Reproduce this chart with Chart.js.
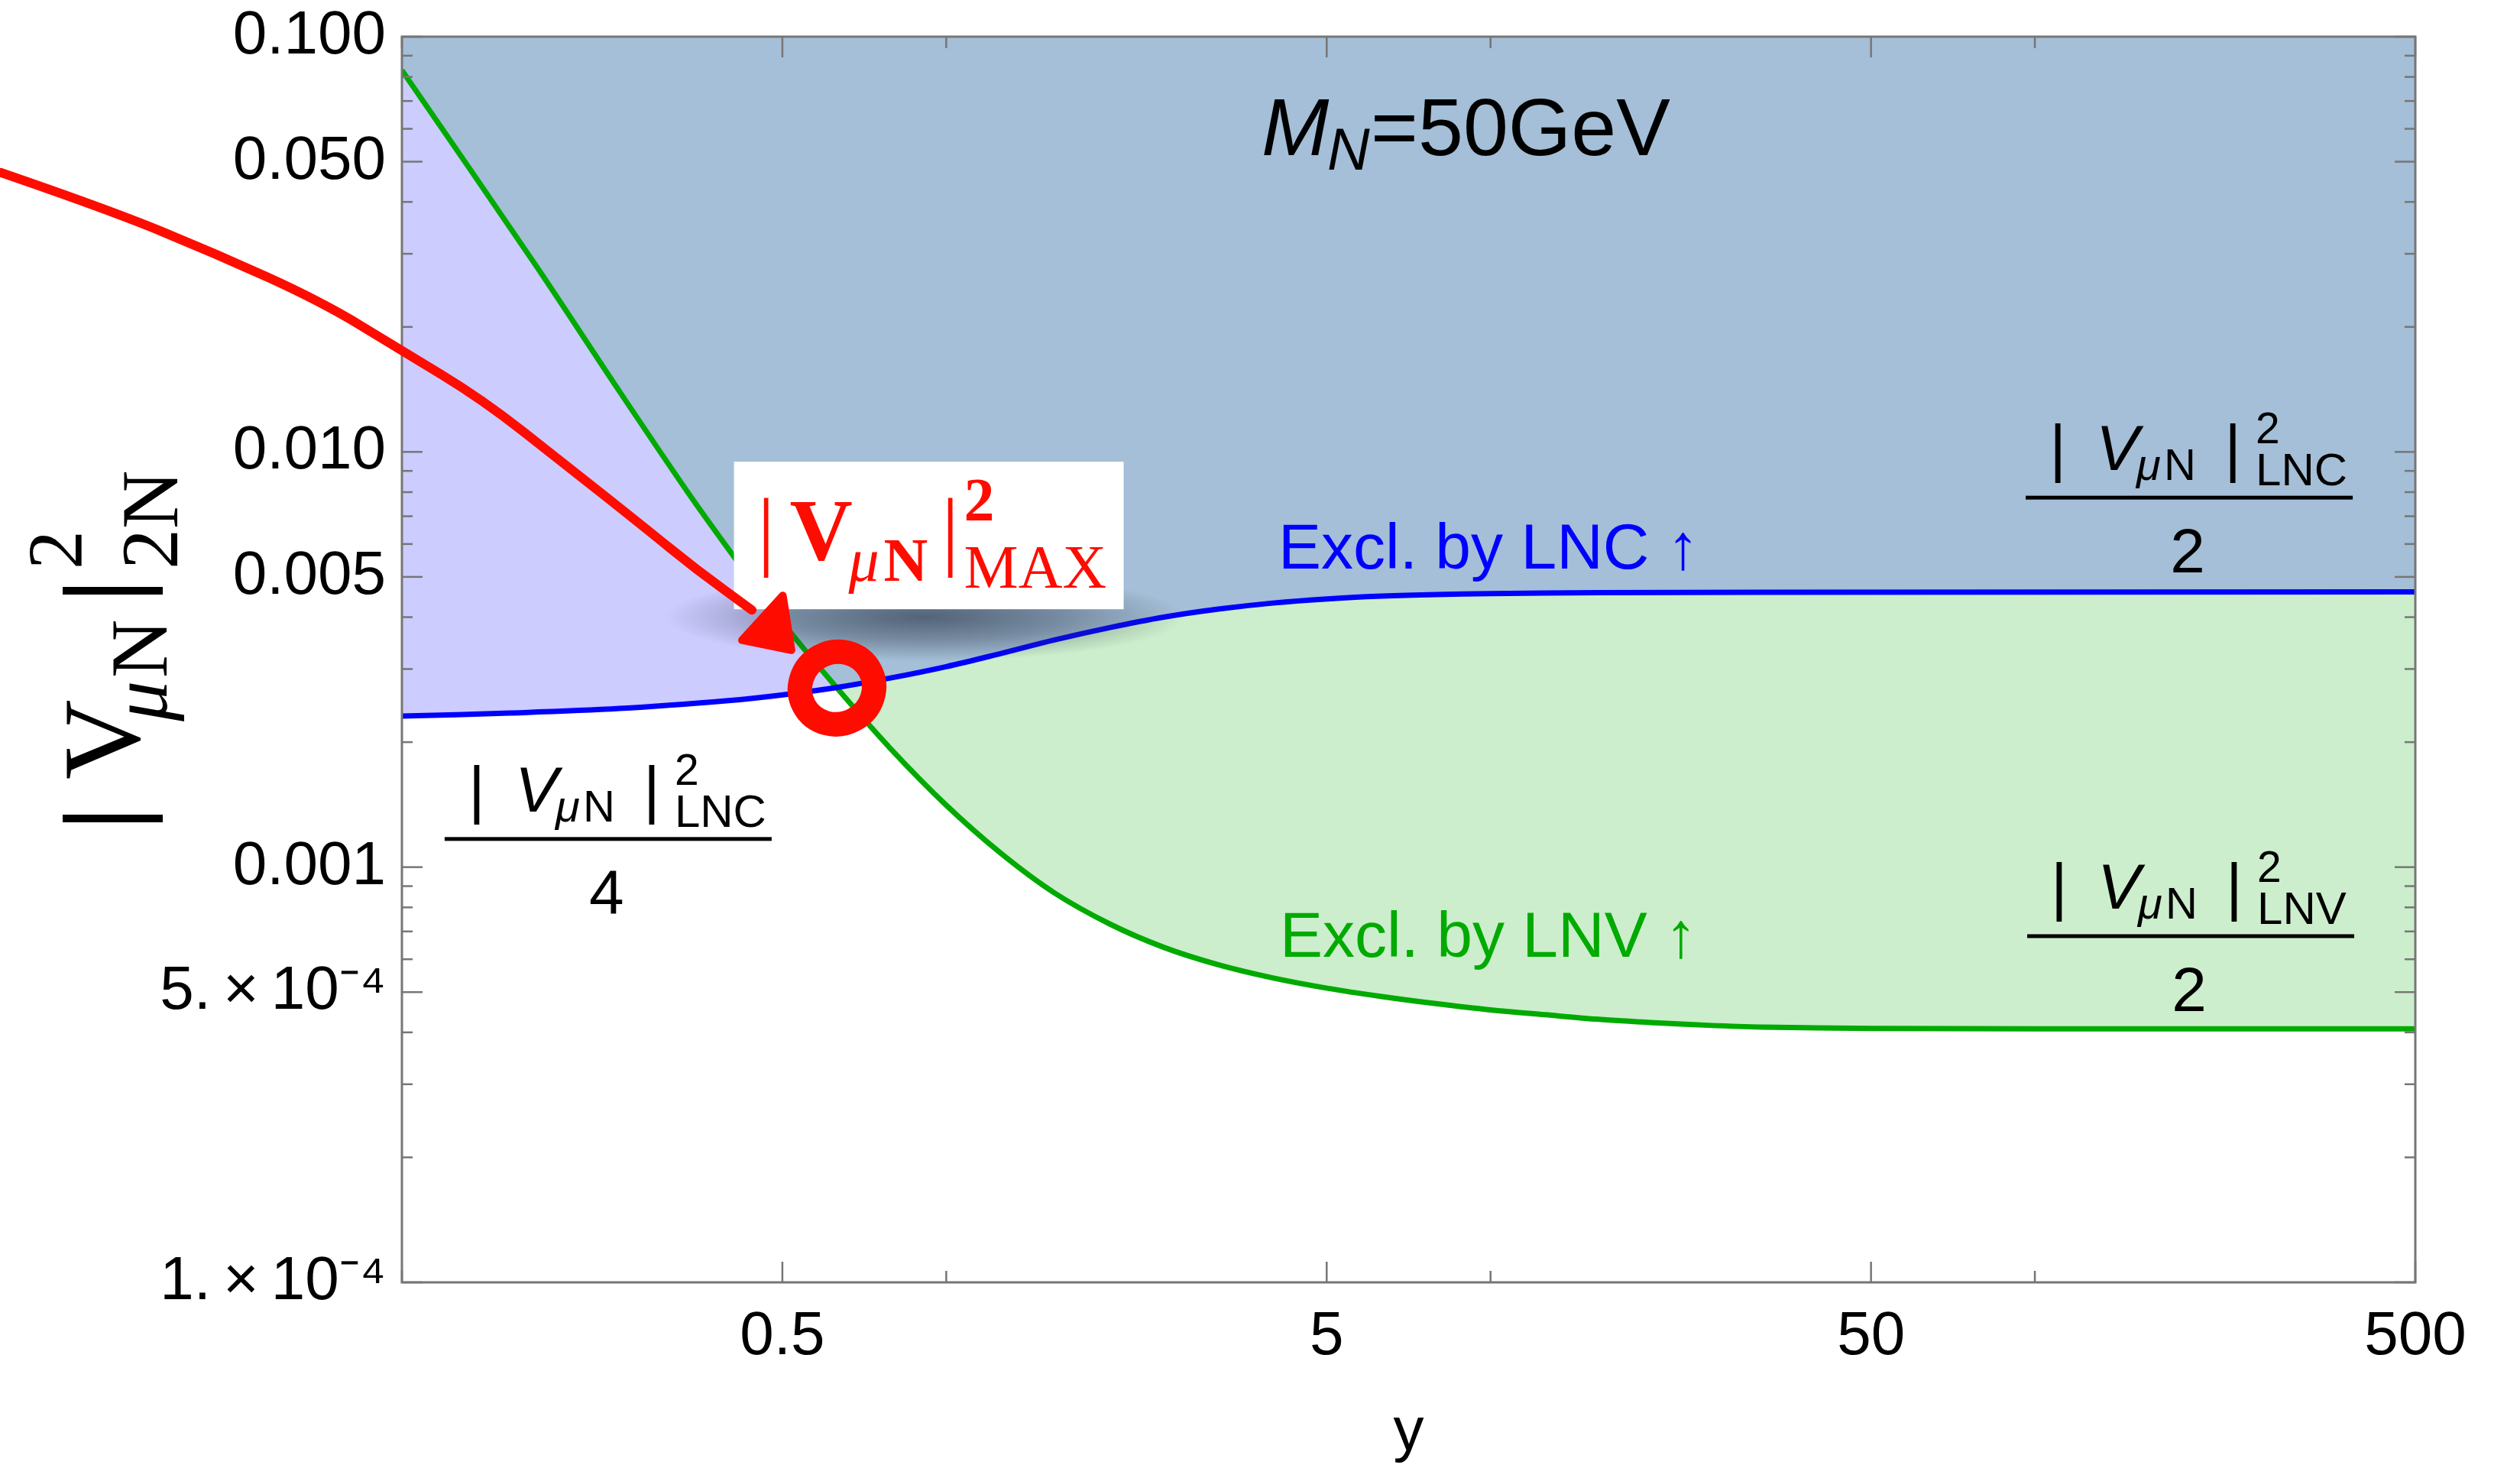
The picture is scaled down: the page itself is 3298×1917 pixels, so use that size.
<!DOCTYPE html>
<html>
<head>
<meta charset="utf-8">
<script src="https://cdn.jsdelivr.net/npm/chart.js@4.4.0/dist/chart.umd.min.js"></script>
<style>
  html, body { margin: 0; padding: 0; background: #fff; }
</style>
</head>
<body>
<canvas id="myChart" width="3298" height="1917"></canvas>
<script>
// |V|^2 bound from LNC (x = y-parameter)
const lncX = [0.1, 0.158, 0.251, 0.398, 0.501, 0.631, 0.794, 1, 1.26, 1.58, 2, 2.51, 3.16, 3.98, 5.01, 6.31, 7.94, 10, 15.8, 31.6, 500];
const lncY = [0.00231, 0.00235, 0.00241, 0.002518, 0.0026, 0.00271, 0.002858, 0.00304, 0.00327, 0.003524, 0.003776, 0.0040, 0.004182, 0.004325, 0.004426, 0.004493, 0.004535, 0.00456, 0.004581, 0.004592, 0.0046];

// |V|^2 bound from LNV
const lnvX = [0.1, 0.176, 0.25, 0.335, 0.4, 0.5, 0.63, 0.79, 1, 1.26, 1.58, 2, 2.51, 3.16, 3.98, 5.01, 6.31, 7.94, 10, 12.6, 15.8, 20, 25.1, 31.6, 50, 100, 500];
const lnvY = [0.083, 0.0282, 0.0141, 0.0080, 0.00578, 0.00389, 0.0027, 0.00193, 0.00141, 0.00108, 0.000867, 0.000729, 0.000641, 0.000582, 0.000541, 0.000511, 0.000488, 0.000469, 0.000453, 0.000441, 0.00043, 0.000422, 0.000416, 0.000412, 0.000409, 0.000408, 0.000408];

// hand drawn red arrow (data coordinates)
const arrowX = [0.0183, 0.0288, 0.0453, 0.0712, 0.1, 0.1404, 0.1972, 0.277, 0.348, 0.4396];
const arrowY = [0.0471, 0.0384, 0.0301, 0.0230, 0.01754, 0.01338, 0.00944, 0.00663, 0.0052, 0.00416];
const headX = [0.501, 0.4214, 0.5196];
const headY = [0.00451, 0.00352, 0.00333];
const ringX = 0.63;
const ringY = 0.0027;

// ticks
const xMajorTicks = [0.5, 5, 50, 500];
const xMajorLabels = ['0.5', '5', '50', '500'];
const xMinorTicks = [0.1, 1, 10, 100];
const yMajorTicks = [0.0001, 0.0005, 0.001, 0.005, 0.01, 0.05, 0.1];
const yMajorLabels = ['1.\u2009\u00d7\u200910\u207b\u2074', '5.\u2009\u00d7\u200910\u207b\u2074', '0.001', '0.005', '0.010', '0.050', '0.100'];
const yMinorTicks = [0.0002, 0.0003, 0.0004, 0.0006, 0.0007, 0.0008, 0.0009,
  0.002, 0.003, 0.004, 0.006, 0.007, 0.008, 0.009,
  0.02, 0.03, 0.04, 0.06, 0.07, 0.08, 0.09];

const SANS = '"Liberation Sans", Arial, sans-serif';
const SERIF = '"Liberation Serif", "Times New Roman", serif';
const RED = '#ff0c00';

// anchors for the annotations, in data coordinates
const boxAnchor = { x: 0.4074, y: 0.00947 };
const massAnchor = { x: 3.796, y: 0.0519 };
const lncTextAnchor = { x: 4.075, y: 0.00523 };
const lnvTextAnchor = { x: 4.1, y: 0.000609 };
const fracAnchors = [
  { x: 96.2, y: 0.00776, sub: 'LNC', den: '2' },
  { x: 96.8, y: 0.000682, sub: 'LNV', den: '2' },
  { x: 0.1198, y: 0.001169, sub: 'LNC', den: '4' }
];

function toPts(xs, ys) {
  return xs.map((x, i) => ({ x: x, y: ys[i] }));
}

function runs(ctx, x0, y0, list) {
  list.forEach(r => {
    ctx.font = r.f;
    ctx.textAlign = r.a || 'left';
    ctx.fillText(r.t, x0 + r.dx, y0 + r.dy);
  });
}

const overlay = {
  id: 'overlay',
  afterDatasetsDraw(chart) {
    const { ctx, chartArea: a, scales: { x, y } } = chart;
    const P = (vx, vy) => [x.getPixelForValue(vx), y.getPixelForValue(vy)];
    ctx.save();

    // frame + inward ticks on all sides
    ctx.strokeStyle = '#767676';
    ctx.lineWidth = 3;
    ctx.strokeRect(a.left, a.top, a.right - a.left, a.bottom - a.top);
    ctx.lineWidth = 2.5;
    const seg = (x1, y1, x2, y2) => { ctx.beginPath(); ctx.moveTo(x1, y1); ctx.lineTo(x2, y2); ctx.stroke(); };
    const xt = (v, len) => { const p = x.getPixelForValue(v); seg(p, a.bottom, p, a.bottom - len); seg(p, a.top, p, a.top + len); };
    const yt = (v, len) => { const p = y.getPixelForValue(v); seg(a.left, p, a.left + len, p); seg(a.right, p, a.right - len, p); };
    xMajorTicks.forEach(v => xt(v, 27));
    xMinorTicks.forEach(v => xt(v, 15));
    yMajorTicks.forEach(v => yt(v, 27));
    yMinorTicks.forEach(v => yt(v, 14));

    // soft shadow under the label box
    const [bx, by] = P(boxAnchor.x, boxAnchor.y);
    const bw = 510, bh = 193;
    ctx.save();
    ctx.translate(bx + 250, by + bh + 10);
    ctx.scale(1, 0.17);
    const g = ctx.createRadialGradient(0, 0, 0, 0, 0, 340);
    g.addColorStop(0, 'rgba(45,55,75,0.68)');
    g.addColorStop(0.5, 'rgba(45,55,75,0.4)');
    g.addColorStop(1, 'rgba(45,55,75,0)');
    ctx.fillStyle = g;
    ctx.beginPath(); ctx.arc(0, 0, 340, 0, Math.PI * 2); ctx.fill();
    ctx.restore();

    // label box
    ctx.fillStyle = '#fff';
    ctx.fillRect(bx, by, bw, bh);
    ctx.fillStyle = RED;
    ctx.textBaseline = 'alphabetic';
    runs(ctx, bx, by, [
      { t: '|', f: `114px ${SERIF}`, dx: 42, dy: 128, a: 'center' },
      { t: 'V', f: `bold 114px ${SERIF}`, dx: 73, dy: 128 },
      { t: '\u03bc', f: `italic 80px ${SERIF}`, dx: 150, dy: 156 },
      { t: 'N', f: `bold 80px ${SERIF}`, dx: 196, dy: 156 },
      { t: '|', f: `114px ${SERIF}`, dx: 283, dy: 128, a: 'center' },
      { t: '2', f: `bold 80px ${SERIF}`, dx: 301, dy: 77 },
      { t: 'MAX', f: `80px ${SERIF}`, dx: 301, dy: 165 }
    ]);

    // M_N = 50 GeV
    ctx.fillStyle = '#000';
    const [mx, my] = P(massAnchor.x, massAnchor.y);
    runs(ctx, mx, my, [
      { t: 'M', f: `italic 106px ${SANS}`, dx: 0, dy: 0 },
      { t: 'N', f: `italic 77px ${SANS}`, dx: 86, dy: 19 },
      { t: '=50GeV', f: `106px ${SANS}`, dx: 143, dy: 0 }
    ]);

    // exclusion labels
    ctx.font = `84px ${SANS}`;
    ctx.textAlign = 'left';
    ctx.fillStyle = '#0000ff';
    let [tx, ty] = P(lncTextAnchor.x, lncTextAnchor.y);
    ctx.fillText('Excl. by LNC \u2191', tx, ty);
    ctx.fillStyle = '#00aa00';
    [tx, ty] = P(lnvTextAnchor.x, lnvTextAnchor.y);
    ctx.fillText('Excl. by LNV \u2191', tx, ty);

    // fractions |V_muN|^2_X / n
    ctx.fillStyle = '#000';
    fracAnchors.forEach(fa => {
      const [fx, fy] = P(fa.x, fa.y);
      runs(ctx, fx, fy, [
        { t: '|', f: `84px ${SANS}`, dx: 42, dy: -36, a: 'center' },
        { t: 'V', f: `italic 84px ${SANS}`, dx: 92, dy: -36 },
        { t: '\u03bc', f: `italic 58px ${SANS}`, dx: 145, dy: -23 },
        { t: 'N', f: `58px ${SANS}`, dx: 181, dy: -23 },
        { t: '|', f: `84px ${SANS}`, dx: 271, dy: -36, a: 'center' },
        { t: '2', f: `57px ${SANS}`, dx: 301, dy: -71 },
        { t: fa.sub, f: `60px ${SANS}`, dx: 301, dy: -16 },
        { t: fa.den, f: `82px ${SANS}`, dx: 212, dy: 98, a: 'center' }
      ]);
      ctx.fillRect(fx, fy - 2.5, 428, 5);
    });

    // red arrow and ring
    ctx.strokeStyle = RED;
    ctx.fillStyle = RED;
    ctx.lineCap = 'round';
    ctx.lineJoin = 'round';
    ctx.lineWidth = 12;
    const pts = arrowX.map((v, i) => P(v, arrowY[i]));
    ctx.beginPath();
    ctx.moveTo(pts[0][0], pts[0][1]);
    for (let i = 1; i < pts.length - 1; i++) {
      const mxp = (pts[i][0] + pts[i + 1][0]) / 2, myp = (pts[i][1] + pts[i + 1][1]) / 2;
      ctx.quadraticCurveTo(pts[i][0], pts[i][1], mxp, myp);
    }
    ctx.lineTo(pts[pts.length - 1][0], pts[pts.length - 1][1]);
    ctx.stroke();
    ctx.lineWidth = 10;
    ctx.beginPath();
    headX.forEach((v, i) => { const [hx, hy] = P(v, headY[i]); i ? ctx.lineTo(hx, hy) : ctx.moveTo(hx, hy); });
    ctx.closePath();
    ctx.fill();
    ctx.stroke();
    const [rx, ry] = P(ringX, ringY);
    ctx.lineWidth = 32;
    ctx.beginPath();
    ctx.ellipse(rx, ry, 49, 47, -0.5, 0, Math.PI * 2);
    ctx.stroke();

    // y axis title |V_muN|^2_2N (rotated)
    ctx.fillStyle = '#000';
    ctx.translate(a.left - 344, a.bottom - 601);
    ctx.rotate(-Math.PI / 2);
    runs(ctx, 0, 0, [
      { t: '|', f: `bold 145px ${SERIF}`, dx: 6, dy: 0, a: 'center' },
      { t: 'V', f: `145px ${SERIF}`, dx: 57, dy: 0 },
      { t: '\u03bc', f: `italic 106px ${SERIF}`, dx: 133, dy: 36 },
      { t: 'N', f: `106px ${SERIF}`, dx: 190, dy: 36 },
      { t: '|', f: `bold 145px ${SERIF}`, dx: 304, dy: 0, a: 'center' },
      { t: '2', f: `102px ${SERIF}`, dx: 332, dy: -75 },
      { t: '2N', f: `106px ${SERIF}`, dx: 332, dy: 50 }
    ]);
    ctx.restore();
  }
};

const ctx = document.getElementById('myChart').getContext('2d');
const chart = new Chart(ctx, {
  type: 'line',
  data: {
    datasets: [
      {
        label: 'LNC',
        data: toPts(lncX, lncY),
        borderColor: '#0000ff',
        borderWidth: 7,
        backgroundColor: 'rgba(0,0,255,0.2)',
        fill: 'end',
        pointRadius: 0,
        tension: 0.35
      },
      {
        label: 'LNV',
        data: toPts(lnvX, lnvY),
        borderColor: '#00aa00',
        borderWidth: 7,
        backgroundColor: 'rgba(0,170,0,0.2)',
        fill: 'end',
        pointRadius: 0,
        tension: 0.35
      }
    ]
  },
  options: {
    responsive: false,
    animation: false,
    devicePixelRatio: 1,
    layout: { padding: { top: 48, right: 137, left: 0, bottom: 0 } },
    plugins: {
      legend: { display: false },
      tooltip: { enabled: false },
      filler: { drawTime: 'beforeDatasetsDraw' }
    },
    scales: {
      x: {
        type: 'logarithmic',
        min: 0.1,
        max: 500,
        afterBuildTicks: ax => {
          ax.ticks = [...xMinorTicks, ...xMajorTicks].sort((p, q) => p - q).map(v => ({ value: v }));
        },
        afterFit: ax => { ax.height = 239; ax.paddingLeft = 0; ax.paddingRight = 0; },
        grid: { display: false, drawTicks: false },
        border: { display: false },
        ticks: {
          autoSkip: false,
          maxRotation: 0,
          padding: 24,
          color: '#000',
          font: { family: SANS, size: 80 },
          callback: v => {
            const i = xMajorTicks.indexOf(v);
            return i >= 0 ? xMajorLabels[i] : '';
          }
        },
        title: {
          display: true,
          text: 'y',
          color: '#000',
          font: { family: SANS, size: 80 },
          padding: { top: 0, bottom: -6 }
        }
      },
      y: {
        type: 'logarithmic',
        min: 0.0001,
        max: 0.1,
        afterBuildTicks: ax => {
          ax.ticks = [...yMinorTicks, ...yMajorTicks].sort((p, q) => p - q).map(v => ({ value: v }));
        },
        afterFit: ax => { ax.width = 526; ax.paddingTop = 0; ax.paddingBottom = 0; },
        grid: { display: false, drawTicks: false },
        border: { display: false },
        ticks: {
          autoSkip: false,
          padding: 21,
          color: '#000',
          font: { family: SANS, size: 80 },
          callback: v => {
            const i = yMajorTicks.indexOf(v);
            return i >= 0 ? yMajorLabels[i] : '';
          }
        }
      }
    }
  },
  plugins: [overlay]
});
</script>
</body>
</html>
